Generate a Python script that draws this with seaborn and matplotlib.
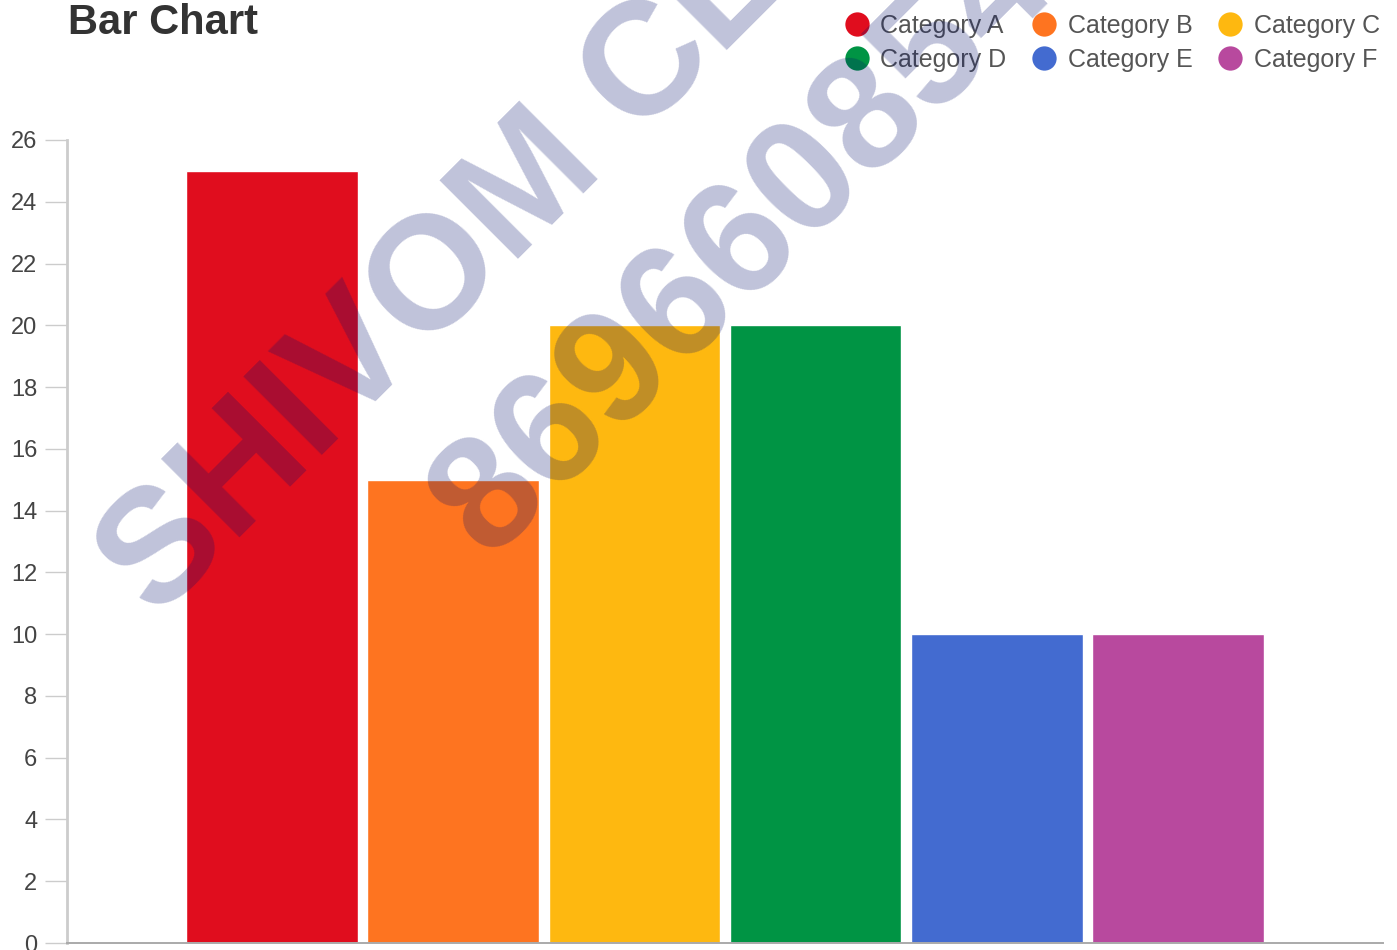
import matplotlib
matplotlib.use("Agg")
import matplotlib.pyplot as plt
import seaborn as sns
from matplotlib.lines import Line2D

# data
categories = ["Category A", "Category B", "Category C",
              "Category D", "Category E", "Category F"]
values = [25, 15, 20, 20, 10, 10]
colors = ["#E00D1E", "#FE7420", "#FEB810", "#009444", "#436BD0", "#B8499E"]
yticks = list(range(0, 27, 2))

sns.set_style("white")
plt.rcParams["font.family"] = ["Liberation Sans", "DejaVu Sans"]

fig = plt.figure(figsize=(13.97, 9.5), dpi=100)
ax = fig.add_axes([67 / 1397, 7 / 950, (1383 - 67) / 1397, (943 - 140) / 950])

sns.barplot(x=categories, y=values, hue=categories, palette=colors,
            width=0.95, saturation=1, legend=False, ax=ax)

ax.set_xlim(-1.135, 6.135)
ax.set_ylim(0, 26)
ax.set_yticks(yticks)
ax.set_xticks([])
ax.set_xlabel("")
ax.set_ylabel("")
ax.tick_params(axis="y", length=16, width=1, color="#cccccc", pad=5.5,
               labelsize=17, labelcolor="#444444", left=True)
for s in ["top", "right"]:
    ax.spines[s].set_visible(False)
ax.spines["left"].set_color("#cccccc")
ax.spines["left"].set_linewidth(2)
ax.spines["bottom"].set_color("#aaaaaa")
ax.spines["bottom"].set_linewidth(1.4)

# title
fig.text(68 / 1397, 1 - 34 / 950, "Bar Chart", fontsize=30,
         fontweight="bold", color="#333333", va="baseline")

# legend, filled row by row
order = [0, 3, 1, 4, 2, 5]
handles = [Line2D([], [], marker="o", linestyle="", markersize=17.5,
                  markerfacecolor=colors[i], markeredgewidth=0)
           for i in order]
labels = [categories[i] for i in order]
fig.legend(handles, labels, ncol=3, frameon=False, loc="upper right",
           bbox_to_anchor=(1380 / 1397, 1 - 14 / 950), fontsize=18,
           labelcolor="#555555", borderpad=0, borderaxespad=0,
           handlelength=1.0, handletextpad=0.45, columnspacing=1.0,
           labelspacing=0.4)

# watermark
wm = dict(fontsize=116, fontweight="bold", color="#030F6B", alpha=0.25,
          rotation=45, rotation_mode="anchor", ha="left", va="baseline",
          zorder=10)
fig.text(157 / 1397, 1 - 621 / 950, "SHIVOM CL", **wm)
fig.text(488 / 1397, 1 - 559 / 950, "869660854", **wm)

fig.savefig("out.png", dpi=100)
